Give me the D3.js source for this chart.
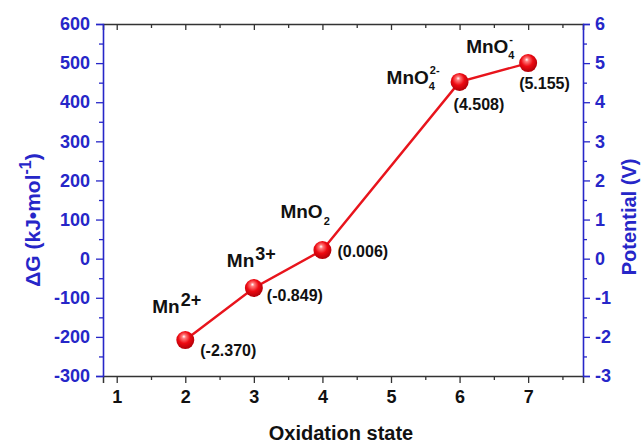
<!DOCTYPE html>
<html>
<head>
<meta charset="utf-8">
<script src="https://cdn.jsdelivr.net/npm/d3@7.9.0/dist/d3.min.js"></script>
<style>
  body { margin: 0; background: #fff; }
  svg { display: block; font-family: Arial, 'Liberation Sans', sans-serif; font-weight: bold; }
</style>
</head>
<body>
<svg id="chart" width="641" height="443"></svg>
<script>
// data
const oxStates = [2, 3, 4, 6, 7];
const deltaG = [-208, -75, 22, 452, 500];
const potentials = ['(-2.370)', '(-0.849)', '(0.006)', '(4.508)', '(5.155)'];
const speciesMain = ['Mn', 'Mn', 'MnO', 'MnO', 'MnO'];
const speciesSup = ['2+', '3+', '', '2-', '-'];
const speciesSub = ['', '', '2', '4', '4'];
const xTicks = [1, 2, 3, 4, 5, 6, 7];
const gTicks = [-300, -200, -100, 0, 100, 200, 300, 400, 500, 600];
const vTicks = [-3, -2, -1, 0, 1, 2, 3, 4, 5, 6];

// label offsets from each marker (layout only)
const nameOffset = [[-33, -27], [-27, -21], [-42, -32], [-73, 2], [-62, -10]];
const valueOffset = [[15, 16], [13, 13], [15, 7], [-6, 28], [-9, 26]];

const blue = '#2626c8';
const red = '#e8141c';
const plain = d => String(d); // keep ASCII hyphen for negatives

const W = 641, H = 443;
const margin = { top: 24, right: 58, bottom: 67, left: 103 };
const svg = d3.select('#chart');

const x = d3.scaleLinear().domain([0.8, 7.8]).range([margin.left, W - margin.right]);
const yG = d3.scaleLinear().domain([-300, 600]).range([H - margin.bottom, margin.top]);
const yV = d3.scaleLinear().domain([-3, 6]).range([H - margin.bottom, margin.top]);

const defs = svg.append('defs');
const grad = defs.append('radialGradient').attr('id', 'ball')
  .attr('cx', '0.45').attr('cy', '0.4').attr('r', '0.6')
  .attr('fx', '0.42').attr('fy', '0.3');
grad.append('stop').attr('offset', '0').attr('stop-color', '#ffffff');
grad.append('stop').attr('offset', '0.18').attr('stop-color', '#ff7a7a');
grad.append('stop').attr('offset', '0.55').attr('stop-color', '#ee0a12');
grad.append('stop').attr('offset', '1').attr('stop-color', '#b00008');

// bottom axis
const minorX = d3.range(1.5, 7.6, 1);
svg.append('g')
  .attr('transform', `translate(0,${H - margin.bottom})`)
  .call(d3.axisBottom(x).tickValues(minorX).tickSize(4).tickFormat(''))
  .call(g => g.select('.domain').remove())
  .selectAll('line').attr('stroke', '#333').attr('stroke-width', 1.3);
const bottomAx = svg.append('g')
  .attr('transform', `translate(0,${H - margin.bottom})`)
  .call(d3.axisBottom(x).tickValues(xTicks).tickSize(7).tickPadding(7).tickFormat(plain));
bottomAx.select('.domain').attr('stroke', '#333').attr('stroke-width', 1.5);
bottomAx.selectAll('line').attr('stroke', '#333').attr('stroke-width', 1.3);
bottomAx.selectAll('text').attr('font-size', 18).attr('fill', '#111').attr('font-family', null);

// top axis, ticks pointing inward
svg.append('g')
  .attr('transform', `translate(0,${margin.top})`)
  .call(d3.axisBottom(x).tickValues(minorX).tickSize(4).tickFormat(''))
  .call(g => g.select('.domain').remove())
  .selectAll('line').attr('stroke', '#333').attr('stroke-width', 1.3);
const topAx = svg.append('g')
  .attr('transform', `translate(0,${margin.top})`)
  .call(d3.axisBottom(x).tickValues(xTicks).tickSize(6).tickFormat(''));
topAx.select('.domain').attr('stroke', '#333').attr('stroke-width', 1.5);
topAx.selectAll('line').attr('stroke', '#333').attr('stroke-width', 1.3);

// left axis (ΔG)
svg.append('g')
  .attr('transform', `translate(${margin.left},0)`)
  .call(d3.axisLeft(yG).tickValues(d3.range(-250, 600, 100)).tickSize(4).tickFormat(''))
  .call(g => g.select('.domain').remove())
  .selectAll('line').attr('stroke', blue).attr('stroke-width', 1.3);
const leftAx = svg.append('g')
  .attr('transform', `translate(${margin.left},0)`)
  .call(d3.axisLeft(yG).tickValues(gTicks).tickSize(7).tickPadding(6).tickFormat(plain));
leftAx.select('.domain').attr('stroke', blue).attr('stroke-width', 1.6);
leftAx.selectAll('line').attr('stroke', blue).attr('stroke-width', 1.3);
leftAx.selectAll('text').attr('font-size', 18).attr('fill', blue).attr('font-family', null);

// right axis (potential)
svg.append('g')
  .attr('transform', `translate(${W - margin.right},0)`)
  .call(d3.axisRight(yV).tickValues(d3.range(-2.5, 6, 1)).tickSize(4).tickFormat(''))
  .call(g => g.select('.domain').remove())
  .selectAll('line').attr('stroke', blue).attr('stroke-width', 1.3);
const rightAx = svg.append('g')
  .attr('transform', `translate(${W - margin.right},0)`)
  .call(d3.axisRight(yV).tickValues(vTicks).tickSize(7).tickPadding(5).tickFormat(plain));
rightAx.select('.domain').attr('stroke', blue).attr('stroke-width', 1.6);
rightAx.selectAll('line').attr('stroke', blue).attr('stroke-width', 1.3);
rightAx.selectAll('text').attr('font-size', 18).attr('fill', blue).attr('font-family', null);

// axis titles
svg.append('text')
  .attr('x', (margin.left + W - margin.right) / 2 - 2).attr('y', 440)
  .attr('text-anchor', 'middle').attr('font-size', 20).attr('fill', '#111')
  .text('Oxidation state');

const yTitle = svg.append('text')
  .attr('transform', 'translate(40,220) rotate(-90)')
  .attr('text-anchor', 'middle').attr('font-size', 21).attr('fill', blue);
yTitle.append('tspan').text('\u0394G (kJ\u2022mol');
yTitle.append('tspan').attr('dy', -9).attr('font-size', 16).text('-1');
yTitle.append('tspan').attr('dy', 9).text(')');

svg.append('text')
  .attr('transform', 'translate(636,217) rotate(-90)')
  .attr('text-anchor', 'middle').attr('font-size', 20).attr('fill', blue)
  .text('Potential (V)');

// line + markers
const pts = oxStates.map((d, i) => [x(d), yG(deltaG[i])]);
svg.append('path')
  .attr('d', d3.line()(pts))
  .attr('fill', 'none').attr('stroke', red).attr('stroke-width', 2.4);

svg.selectAll('circle.pt')
  .data(pts)
  .enter()
  .append('circle')
  .attr('class', 'pt')
  .attr('cx', d => d[0]).attr('cy', d => d[1])
  .attr('r', 9)
  .attr('fill', 'url(#ball)');

// species labels with super/subscripts
pts.forEach((p, i) => {
  const lx = p[0] + nameOffset[i][0];
  const ly = p[1] + nameOffset[i][1];
  const main = svg.append('text')
    .attr('x', lx).attr('y', ly)
    .attr('font-size', 19).attr('fill', '#111')
    .text(speciesMain[i]);
  const w = main.node().getComputedTextLength();
  if (speciesSub[i] && speciesSup[i]) {
    svg.append('text').attr('x', lx + w).attr('y', ly + 6)
      .attr('font-size', 11).attr('fill', '#111').text(speciesSub[i]);
    svg.append('text').attr('x', lx + w + 1).attr('y', ly - 10)
      .attr('font-size', 11).attr('fill', '#111').text(speciesSup[i]);
  } else if (speciesSub[i]) {
    svg.append('text').attr('x', lx + w + 1).attr('y', ly + 7)
      .attr('font-size', 11).attr('fill', '#111').text(speciesSub[i]);
  } else if (speciesSup[i]) {
    svg.append('text').attr('x', lx + w + 1).attr('y', ly - 7)
      .attr('font-size', 18).attr('fill', '#111').text(speciesSup[i]);
  }

  svg.append('text')
    .attr('x', p[0] + valueOffset[i][0]).attr('y', p[1] + valueOffset[i][1])
    .attr('font-size', 16).attr('fill', '#111')
    .text(potentials[i]);
});
</script>
</body>
</html>
